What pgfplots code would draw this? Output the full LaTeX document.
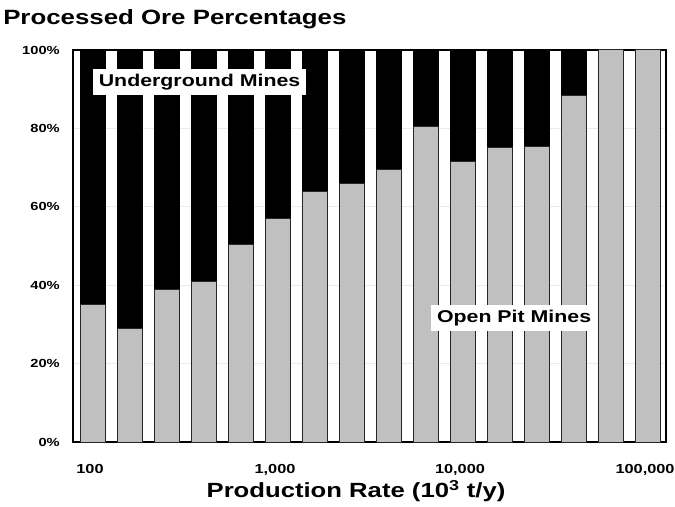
\documentclass[border=0pt]{standalone}
\usepackage{pgfplots}
\pgfplotsset{compat=1.18}
\usepackage{fontspec}
\setmainfont{Liberation Sans}[FakeStretch=1.25]
\definecolor{oregray}{RGB}{192,192,192}
\begin{document}
\begin{tikzpicture}
\begin{axis}[
  at={(0,0)}, anchor=south west,
  scale only axis, width=444.75pt, height=294pt,
  xmin=-0.5405, xmax=15.486, ymin=0, ymax=100,
  ybar stacked, bar width=0.65,
  xtick={-0.081,4.919,9.919,14.919},
  xticklabels={100,{1,000},{10,000},{100,000}},
  ytick={0,20,40,60,80,100},
  yticklabels={0\%,20\%,40\%,60\%,80\%,100\%},
  major tick length=0,
  ymajorgrids, grid style={black!8, line width=0.5pt},
  axis line style={line width=1.1pt},
  xticklabel style={font=\fontsize{9.8}{10}\selectfont\bfseries, anchor=base, yshift=-23.25pt, inner sep=0pt},
  yticklabel style={font=\fontsize{8.8}{9}\selectfont\bfseries, anchor=east, xshift=-9.75pt, inner sep=0pt},
  /pgf/number format/assume math mode=true,
]
\addplot[fill=oregray, draw=black!85, line width=0.75pt] coordinates {
 (0,35) (1,29) (2,39) (3,41) (4,50.5) (5,57) (6,64) (7,66) (8,69.5) (9,80.5) (10,71.5) (11,75) (12,75.5) (13,88.5) (14,100) (15,100)};
\addplot[fill=black, draw=black, line width=0.75pt] coordinates {
 (0,65) (1,71) (2,61) (3,59) (4,49.5) (5,43) (6,36) (7,34) (8,30.5) (9,19.5) (10,28.5) (11,25) (12,24.5) (13,11.5) (14,0) (15,0)};
\coordinate (ug) at (axis cs:2.88,91.8);
\coordinate (op) at (axis cs:11.38,31.6);
\end{axis}
\node[fill=white, inner xsep=4.5pt, inner ysep=4pt, font=\fontsize{12.8}{13}\selectfont\bfseries] at (ug) {Underground Mines};
\node[fill=white, inner xsep=4.5pt, inner ysep=4pt, font=\fontsize{12.8}{13}\selectfont\bfseries] at (op) {Open Pit Mines};
\node[anchor=base west, inner sep=0pt, font=\fontsize{15.5}{16}\selectfont\bfseries] at (-52.5pt,312.75pt) {Processed Ore Percentages};
\node[anchor=base, inner sep=0pt, font=\fontsize{15.4}{16}\selectfont\bfseries] at (212.25pt,-41.25pt) {Production Rate (10\textsuperscript{3} t/y)};
\pgfresetboundingbox
\path[use as bounding box] (-54.75pt,-48.75pt) rectangle (451.5pt,331.5pt);
\end{tikzpicture}
\end{document}
